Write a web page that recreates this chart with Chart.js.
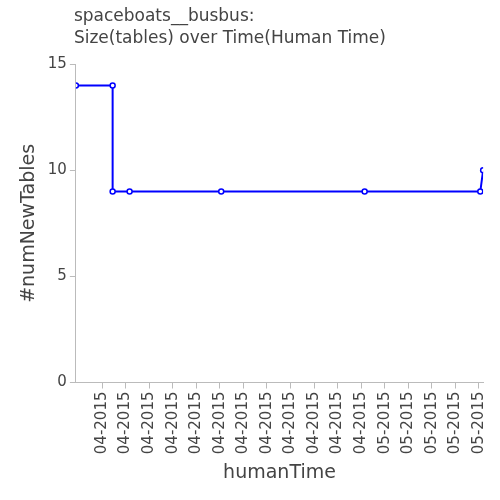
<!DOCTYPE html>
<html>
<head>
<script src="https://cdn.jsdelivr.net/npm/chart.js@4"></script>
<style>
  body { margin: 0; background: #fff; }
  #wrap { width: 500px; height: 500px; }
</style>
</head>
<body>
<div id="wrap"><canvas id="c"></canvas></div>
<script>
// x positions are in tick units (tick i = i-th date label)
const timePos = [-0.11, 1.45, 1.45, 2.17, 6.06, 12.15, 17.06, 17.18];
const numNewTables = [14, 14, 9, 9, 9, 9, 9, 10];
const tickLabels = ["04-2015", "04-2015", "04-2015", "04-2015", "04-2015", "04-2015",
  "04-2015", "04-2015", "04-2015", "04-2015", "04-2015", "04-2015",
  "05-2015", "05-2015", "05-2015", "05-2015", "05-2015"];
const titleLines = ["spaceboats__busbus:", "Size(tables) over Time(Human Time)"];

const gray = "#444";

// draw the title lined up with the plot's left edge
const titleAtPlot = {
  id: "titleAtPlot",
  afterDraw(chart) {
    const ctx = chart.ctx;
    ctx.save();
    ctx.fillStyle = gray;
    ctx.font = "17px 'DejaVu Sans'";
    ctx.textBaseline = "top";
    titleLines.forEach((t, i) => ctx.fillText(t, chart.chartArea.left - 2, 8 + i * 22));
    ctx.restore();
  }
};

new Chart(document.getElementById("c"), {
  type: "line",
  data: {
    datasets: [{
      data: timePos.map((x, i) => ({ x: x, y: numNewTables[i] })),
      borderColor: "#0000ff",
      backgroundColor: "#fff",
      borderWidth: 2,
      pointRadius: 2.5,
      pointBorderWidth: 1.5,
      pointBorderColor: "#0000ff",
      tension: 0
    }]
  },
  plugins: [titleAtPlot],
  options: {
    responsive: true,
    maintainAspectRatio: false,
    animation: false,
    layout: { padding: { left: 14, right: 12, top: 0, bottom: 12 } },
    plugins: {
      legend: { display: false },
      tooltip: { enabled: false },
      title: {
        display: true,
        text: titleLines,
        color: "rgba(0,0,0,0)",
        font: { family: "DejaVu Sans", size: 17, weight: "normal", lineHeight: 1.3 },
        padding: { top: 6, bottom: 14 }
      }
    },
    scales: {
      x: {
        type: "linear",
        min: -0.11,
        max: 17.18,
        afterBuildTicks: ax => { ax.ticks = tickLabels.map((_, i) => ({ value: i + 1 })); },
        ticks: {
          autoSkip: false,
          maxRotation: 90,
          minRotation: 90,
          color: gray,
          font: { family: "DejaVu Sans", size: 15 },
          callback: v => tickLabels[Math.round(v) - 1] || ""
        },
        grid: { drawOnChartArea: false, drawTicks: true, tickLength: 6, color: "#bbb" },
        border: { color: "#bbb" },
        title: { display: true, text: "humanTime", color: gray, font: { family: "DejaVu Sans", size: 19 } }
      },
      y: {
        min: 0,
        max: 15,
        ticks: { stepSize: 5, color: gray, font: { family: "DejaVu Sans", size: 15 } },
        grid: { drawOnChartArea: false, drawTicks: true, tickLength: 6, color: "#bbb" },
        border: { color: "#bbb" },
        title: { display: true, text: "#numNewTables", color: gray, font: { family: "DejaVu Sans", size: 19 } }
      }
    }
  }
});
</script>
</body>
</html>
